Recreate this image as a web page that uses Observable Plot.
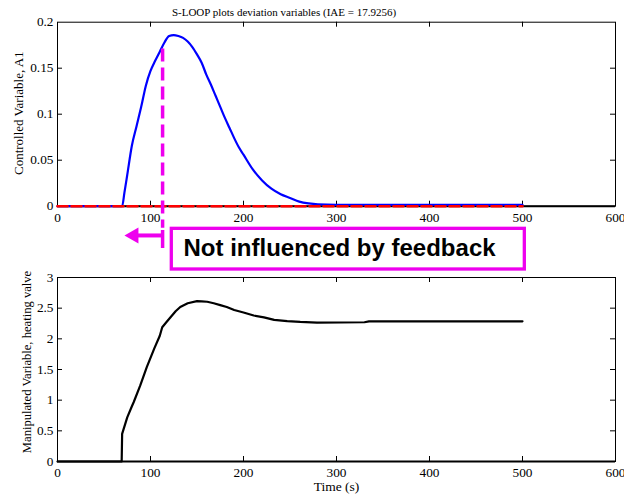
<!DOCTYPE html>
<html>
<head>
<meta charset="utf-8">
<script src="https://cdn.jsdelivr.net/npm/d3@7"></script>
<script src="https://cdn.jsdelivr.net/npm/@observablehq/plot@0.6"></script>
<style>
  html, body { margin: 0; padding: 0; background: white; }
  #chart svg { display: block; }
  #chart svg + svg { margin-top: -12px; }
</style>
</head>
<body>
<div id="chart"></div>
<script>
// ---- Data ----
const titleText = "S-LOOP plots deviation variables (IAE = 17.9256)";
const yLabelTop = "Controlled Variable, A1";
const yLabelBottom = "Manipulated Variable, heating valve";
const xLabel = "Time (s)";
const annotationText = "Not influenced by feedback";

const xTicks = [0, 100, 200, 300, 400, 500, 600];
const yTicksTop = [0, 0.05, 0.1, 0.15, 0.2];
const yTicksBottom = [0, 0.5, 1, 1.5, 2, 2.5, 3];

// Controlled variable A1 (deviation)
const timeCV = [0, 69.5, 72, 75, 80, 85, 90, 95, 100, 105, 110, 115, 120, 125, 130, 135, 140, 145, 150, 155, 160, 165, 170, 175, 180, 185, 190, 195, 200, 210, 220, 230, 240, 250, 260, 270, 280, 300, 350, 400, 450, 500];
const controlled = [0, 0, 0.015, 0.034, 0.066, 0.087, 0.108, 0.131, 0.147, 0.158, 0.168, 0.178, 0.185, 0.186, 0.185, 0.183, 0.179, 0.173, 0.165, 0.156, 0.143, 0.132, 0.120, 0.108, 0.096, 0.085, 0.074, 0.064, 0.056, 0.040, 0.028, 0.019, 0.013, 0.009, 0.005, 0.003, 0.002, 0.0015, 0.0015, 0.0015, 0.0015, 0.0015];

// Set point (deviation)
const timeSP = [0, 500];
const setpoint = [0, 0];

// Manipulated variable, heating valve (deviation)
const timeMV = [0, 69, 69.5, 75, 80, 82, 89, 96, 104, 110, 112.6, 117, 122, 127, 132, 140, 150, 155, 161, 168, 175, 182, 190, 200, 211, 222, 233, 247, 261, 279, 330, 335, 380, 500];
const manipulated = [0, 0, 0.45, 0.72, 0.90, 0.97, 1.24, 1.54, 1.84, 2.05, 2.19, 2.27, 2.36, 2.45, 2.52, 2.58, 2.614, 2.612, 2.605, 2.58, 2.55, 2.52, 2.47, 2.43, 2.38, 2.35, 2.31, 2.29, 2.275, 2.265, 2.27, 2.285, 2.285, 2.285];

// Annotation (data coordinates)
const feedbackTime = 113;
const feedbackTop = 0.171;
const dashedEnd = -0.024;
const solidStart = -0.0264;
const solidEnd = -0.046;
const arrowY = -0.0318;
const arrowShaftStart = 87;
const arrowHeadTime = 82;
const boxX = [122.9, 502.5];
const boxY = [-0.0246, -0.0688];
const textTime = 135.5;
const textY = -0.0463;

// ---- Layout ----
const W = 624;
const ML = 57, MR = 9;
const frameW = W - ML - MR;
const frameH = 184;
const magenta = "#ee00ee";
const serif = "Liberation Serif";

const cvData = timeCV.map((t, i) => ({t, v: controlled[i]}));
const spData = timeSP.map((t, i) => ({t, v: setpoint[i]}));
const mvData = timeMV.map((t, i) => ({t, v: manipulated[i]}));

function tickMarks(yTicks, yMin) {
  return [
    Plot.ruleX(xTicks.slice(1, -1), {x: d => d, insetTop: frameH - 5, stroke: "black"}),
    Plot.ruleX(xTicks.slice(1, -1), {x: d => d, insetBottom: frameH - 5, stroke: "black"}),
    Plot.ruleY(yTicks.slice(1, -1), {y: d => d, insetRight: frameW - 5, stroke: "black"}),
    Plot.ruleY(yTicks.slice(1, -1), {y: d => d, insetLeft: frameW - 5, stroke: "black"}),
    Plot.frame({stroke: "black", strokeWidth: 1}),
    Plot.ruleY([yMin], {stroke: "black", strokeWidth: 2})
  ];
}

function tickLabels(yTicks) {
  return [
    Plot.text(xTicks, {x: d => d, frameAnchor: "bottom", textAnchor: "middle", lineAnchor: "middle", dy: 11.5, text: d => String(d), fontFamily: serif, fontSize: 13.3, fill: "black"}),
    Plot.text(yTicks, {y: d => d, frameAnchor: "left", textAnchor: "end", lineAnchor: "middle", dx: -4, text: d => String(d), fontFamily: serif, fontSize: 13.3, fill: "black"})
  ];
}

const topChart = Plot.plot({
  width: W,
  height: 274,
  marginLeft: ML,
  marginRight: MR,
  marginTop: 21.7,
  marginBottom: 68.3,
  style: {fontFamily: serif, fontSize: "13px", background: "white", color: "black"},
  x: {domain: [0, 600], axis: null},
  y: {domain: [0, 0.2], axis: null},
  marks: [
    ...tickMarks(yTicksTop, 0),
    Plot.line(cvData, {x: "t", y: "v", stroke: "#0000ff", strokeWidth: 2.2, curve: "monotone-x"}),
    Plot.line(spData, {x: "t", y: "v", stroke: "#ff0000", strokeWidth: 2.6, strokeDasharray: "10,4"}),
    Plot.ruleX([feedbackTime], {x: d => d, y1: feedbackTop, y2: dashedEnd, stroke: magenta, strokeWidth: 3.5, strokeDasharray: "13,6"}),
    Plot.ruleX([feedbackTime], {x: d => d, y1: solidStart, y2: solidEnd, stroke: magenta, strokeWidth: 3.5}),
    Plot.ruleY([arrowY], {y: d => d, x1: arrowShaftStart, x2: feedbackTime, stroke: magenta, strokeWidth: 4}),
    Plot.dot([{t: arrowHeadTime, v: arrowY}], {x: "t", y: "v", symbol: "triangle", rotate: -90, r: 6, fill: magenta, stroke: "none"}),
    Plot.rect([{x1: boxX[0], x2: boxX[1], y1: boxY[0], y2: boxY[1]}], {x1: "x1", x2: "x2", y1: "y1", y2: "y2", fill: "white", stroke: magenta, strokeWidth: 3.3}),
    Plot.text([annotationText], {x: textTime, y: textY, text: d => d, textAnchor: "start", lineAnchor: "middle", fontFamily: "Liberation Sans", fontWeight: "bold", fontSize: 24, fill: "black"}),
    ...tickLabels(yTicksTop),
    Plot.text([titleText], {frameAnchor: "top", textAnchor: "middle", lineAnchor: "middle", dx: -52.5, dy: -9.7, text: d => d, fontFamily: serif, fontSize: 11, fill: "black"}),
    Plot.text([yLabelTop], {frameAnchor: "left", textAnchor: "middle", lineAnchor: "middle", dx: -39, dy: -1, rotate: -90, text: d => d, fontFamily: serif, fontSize: 13, fill: "black"})
  ]
});

const bottomChart = Plot.plot({
  width: W,
  height: 237,
  marginLeft: ML,
  marginRight: MR,
  marginTop: 15,
  marginBottom: 38,
  style: {fontFamily: serif, fontSize: "13px", background: "transparent", color: "black", position: "relative"},
  x: {domain: [0, 600], axis: null},
  y: {domain: [0, 3], axis: null},
  marks: [
    ...tickMarks(yTicksBottom, 0),
    Plot.line(mvData, {x: "t", y: "v", stroke: "black", strokeWidth: 2.2}),
    ...tickLabels(yTicksBottom),
    Plot.text([xLabel], {frameAnchor: "bottom", textAnchor: "middle", lineAnchor: "middle", dy: 25, text: d => d, fontFamily: serif, fontSize: 13.5, fill: "black"}),
    Plot.text([yLabelBottom], {frameAnchor: "left", textAnchor: "middle", lineAnchor: "middle", dx: -31, dy: -7.5, rotate: -90, text: d => d, fontFamily: serif, fontSize: 12.6, fill: "black"})
  ]
});

const chart = document.getElementById("chart");
chart.appendChild(topChart);
chart.appendChild(bottomChart);
</script>
</body>
</html>
